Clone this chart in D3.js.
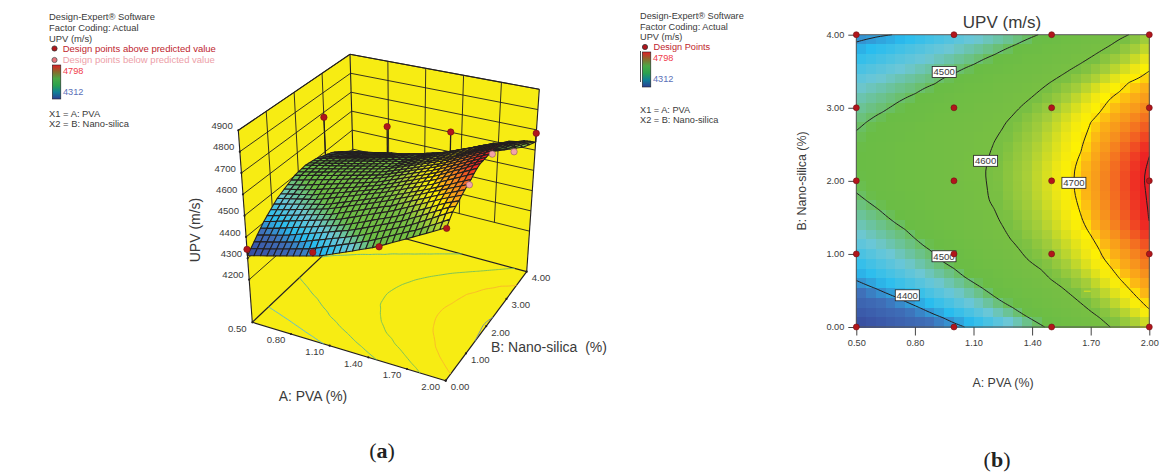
<!DOCTYPE html>
<html>
<head>
<meta charset="utf-8">
<script src="https://cdn.jsdelivr.net/npm/d3@7"></script>
<style>
body { margin: 0; background: #fff; }
svg { display: block; }
text { font-family: "Liberation Sans", Arial, sans-serif; fill: #3a3a3a; }
</style>
</head>
<body>
<div id="chart"></div>
<script>
// UPV. rows = nano-silica 0 -> 4 (31 rows), columns = PVA 0.5 -> 2 (31 columns)
let upvGrid = [
  [4312,4320,4328,4336,4344,4352,4360,4367,4375,4383,4391,4399,4411,4423,4435,4447,4459,4472,4484,4496,4510,4525,4540,4555,4570,4585,4600,4615,4630,4645,4660],
  [4331,4339,4347,4354,4362,4370,4378,4386,4394,4402,4413,4425,4436,4447,4459,4470,4481,4493,4505,4519,4533,4547,4561,4575,4589,4602,4618,4634,4650,4666,4683],
  [4349,4357,4365,4372,4380,4388,4396,4405,4415,4426,4437,4447,4458,4468,4479,4490,4500,4513,4527,4540,4553,4566,4579,4592,4607,4623,4639,4655,4672,4688,4703],
  [4368,4375,4383,4390,4398,4407,4417,4427,4437,4447,4457,4467,4477,4487,4496,4508,4520,4533,4545,4558,4570,4583,4595,4610,4626,4641,4657,4672,4688,4703,4714],
  [4386,4394,4401,4410,4419,4428,4437,4446,4455,4464,4473,4482,4491,4501,4513,4525,4537,4550,4562,4574,4586,4598,4613,4628,4643,4657,4672,4687,4702,4713,4725],
  [4404,4412,4421,4429,4438,4446,4455,4463,4471,4480,4488,4497,4507,4519,4531,4543,4555,4567,4579,4590,4603,4617,4631,4645,4659,4673,4687,4701,4713,4725,4737],
  [4418,4426,4435,4443,4451,4459,4468,4476,4484,4492,4500,4512,4524,4535,4547,4558,4570,4581,4593,4602,4618,4631,4645,4658,4671,4685,4698,4711,4723,4736,4748],
  [4432,4440,4448,4456,4464,4472,4480,4488,4496,4505,4516,4527,4539,4550,4561,4572,4583,4595,4606,4619,4632,4644,4657,4670,4683,4696,4708,4721,4734,4746,4759],
  [4446,4453,4461,4468,4475,4483,4490,4497,4504,4515,4526,4537,4548,4559,4570,4581,4592,4604,4616,4628,4640,4652,4664,4676,4688,4702,4715,4728,4742,4755,4768],
  [4460,4466,4473,4479,4486,4492,4499,4509,4519,4530,4540,4551,4561,4572,4582,4593,4602,4614,4625,4637,4649,4661,4672,4684,4696,4712,4726,4740,4754,4768,4782],
  [4468,4474,4481,4487,4494,4500,4510,4520,4529,4539,4549,4559,4569,4578,4588,4598,4609,4621,4633,4645,4657,4668,4680,4692,4705,4720,4734,4749,4764,4778,4793],
  [4477,4483,4489,4496,4503,4512,4521,4530,4539,4548,4557,4566,4575,4585,4594,4604,4615,4627,4639,4651,4662,4674,4686,4698,4712,4727,4742,4756,4771,4786,4801],
  [4485,4491,4497,4505,4514,4522,4531,4539,4548,4556,4565,4573,4581,4590,4598,4609,4621,4632,4644,4655,4667,4678,4690,4702,4716,4731,4745,4759,4774,4788,4802],
  [4493,4500,4508,4516,4524,4532,4539,4547,4555,4563,4571,4579,4587,4595,4604,4615,4626,4637,4648,4660,4671,4682,4693,4706,4720,4734,4748,4762,4776,4790,4804],
  [4502,4509,4516,4524,4531,4538,4545,4553,4560,4567,4574,4582,4589,4596,4605,4617,4628,4639,4651,4662,4673,4684,4696,4709,4722,4736,4750,4764,4778,4792,4805],
  [4505,4512,4519,4526,4533,4541,4548,4555,4562,4569,4576,4583,4590,4597,4607,4618,4629,4640,4651,4663,4674,4685,4696,4709,4723,4737,4751,4765,4779,4793,4808],
  [4507,4514,4521,4528,4535,4542,4549,4556,4563,4570,4577,4584,4591,4598,4608,4619,4630,4641,4652,4663,4674,4685,4696,4709,4722,4736,4750,4764,4778,4792,4806],
  [4510,4517,4523,4530,4537,4543,4550,4556,4563,4570,4576,4583,4590,4596,4605,4616,4627,4638,4649,4660,4671,4682,4693,4705,4719,4733,4747,4761,4774,4788,4802],
  [4507,4514,4520,4527,4534,4541,4547,4554,4561,4567,4574,4581,4588,4595,4602,4613,4624,4635,4646,4657,4667,4678,4689,4700,4714,4728,4742,4756,4770,4784,4798],
  [4504,4511,4518,4525,4531,4538,4545,4552,4559,4566,4572,4579,4586,4593,4599,4609,4620,4631,4642,4653,4664,4675,4686,4697,4709,4722,4735,4748,4760,4773,4786],
  [4501,4508,4515,4521,4528,4535,4541,4548,4555,4561,4568,4575,4581,4588,4595,4602,4614,4625,4636,4648,4659,4670,4682,4693,4704,4716,4728,4740,4751,4763,4775],
  [4494,4500,4507,4514,4521,4528,4535,4542,4548,4555,4562,4569,4576,4583,4590,4597,4607,4618,4630,4642,4653,4665,4677,4688,4700,4711,4721,4732,4742,4753,4763],
  [4486,4492,4497,4502,4509,4516,4524,4531,4538,4546,4553,4560,4568,4575,4582,4590,4597,4610,4621,4633,4645,4656,4668,4679,4691,4701,4711,4721,4731,4741,4751],
  [4479,4484,4489,4494,4499,4506,4514,4521,4529,4536,4544,4552,4559,4567,4575,4582,4590,4597,4608,4620,4632,4644,4657,4669,4681,4693,4704,4713,4721,4730,4739],
  [4471,4476,4480,4485,4490,4494,4499,4507,4515,4523,4531,4539,4547,4555,4563,4571,4579,4587,4595,4606,4618,4631,4644,4657,4670,4682,4695,4702,4710,4717,4727],
  [4461,4466,4470,4475,4480,4485,4489,4494,4499,4508,4516,4525,4533,4542,4550,4559,4568,4576,4585,4593,4603,4615,4628,4640,4653,4665,4678,4690,4703,4708,4715],
  [4447,4452,4458,4463,4468,4473,4479,4484,4489,4495,4500,4508,4517,4526,4535,4544,4553,4562,4570,4579,4588,4597,4608,4621,4633,4645,4657,4670,4682,4694,4704],
  [4433,4438,4444,4449,4455,4460,4466,4471,4477,4482,4488,4493,4499,4507,4517,4526,4535,4545,4554,4563,4573,4582,4591,4601,4613,4626,4639,4651,4664,4677,4689],
  [4418,4424,4429,4435,4441,4447,4452,4458,4464,4469,4475,4481,4486,4492,4498,4506,4516,4526,4535,4545,4555,4565,4575,4584,4594,4606,4619,4633,4646,4660,4673],
  [4404,4410,4416,4421,4427,4433,4439,4445,4450,4456,4462,4468,4474,4479,4485,4491,4497,4505,4515,4525,4536,4546,4556,4567,4577,4587,4598,4612,4626,4641,4656],
  [4388,4391,4395,4398,4401,4409,4416,4422,4429,4435,4442,4449,4455,4462,4469,4475,4482,4489,4495,4503,4514,4525,4536,4547,4558,4569,4580,4591,4601,4620,4640]
]

let contourLevels = [4400, 4500, 4600, 4700, 4800]
let contourColors = ["#4fb9e3", "#5fb98a", "#74bf5c", "#f9b52d", "#6a86b5"]

// design points in the flat plot
let designPva = [0.5, 1, 1.5, 2]
let designNano = [0, 1, 2, 3, 4]

// design points visible in the 3D view
let pointPva  = [0.5, 1, 1.5, 2, 2, 2, 2, 0.5, 1, 1.5, 2]
let pointNano = [3, 3, 3, 4, 3, 2, 1, 0, 0, 0, 0]
let pointUpv  = [4675, 4695, 4733, 4683, 4701, 4792, 4751, 4342, 4407, 4507, 4657]
let pointAbove = [1, 1, 1, 1, 0, 0, 0, 1, 1, 1, 1]

let pvaTicks = [0.5, 0.8, 1.1, 1.4, 1.7, 2]
let nanoTicks = [0, 1, 2, 3, 4]
let upvTicks = [4200, 4300, 4400, 4500, 4600, 4700, 4800, 4900]

let labelPva  = [0.95, 1.162, 1.614, 0.949, 0.761]
let labelNano = [3.49, 2.274, 1.973, 0.968, 0.434]
let labelText = ["4500", "4600", "4700", "4500", "4400"]

let infoLeft = ["Design-Expert® Software", "Factor Coding: Actual", "UPV (m/s)"]
let factorLines = ["X1 = A: PVA", "X2 = B: Nano-silica"]

let colorStops = [4312, 4380, 4420, 4465, 4510, 4610, 4645, 4680, 4695, 4715, 4735, 4760, 4785, 4798]
let colorValues = ["#38499d", "#3f6fb8", "#29bdef", "#6cc7d6", "#6abd45", "#79bf43", "#a6ce39", "#f0e714", "#fff200", "#fcb316", "#f7941d", "#f26522", "#ee3124", "#ed1c24"]
let legendColors = ["#e01f26", "#8a6a2c", "#4aa846", "#2aa24e", "#0f7f96", "#2c3f95"]

let color = d3.scaleLinear().domain(colorStops).range(colorValues).clamp(true)

let svg = d3.select("#chart").append("svg")
    .attr("width", 1163)
    .attr("height", 472)

let nodePva = d3.scaleLinear().domain([0, 30]).range([0.5, 2])
let nodeNano = d3.scaleLinear().domain([0, 30]).range([0, 4])
let cells = d3.range(30)

// contour lines come from the grid, then get cut open where they run along the border
let contourLines = []
d3.contours().size([31, 31]).thresholds(contourLevels)(upvGrid.flat()).forEach((c, k) => {
  c.coordinates.forEach(poly => poly.forEach(ring => {
    let nodes = ring.map(p => [Math.max(0, Math.min(30, p[0] - 0.5)), Math.max(0, Math.min(30, p[1] - 0.5))])
    let run = []
    nodes.forEach((p, i) => {
      let q = nodes[i - 1]
      let border = q && ((p[0] == 0 && q[0] == 0) || (p[0] == 30 && q[0] == 30) || (p[1] == 0 && q[1] == 0) || (p[1] == 30 && q[1] == 30))
      if (border) {
        if (run.length > 1) contourLines.push({k: k, pts: run})
        run = []
      }
      run.push(p)
    })
    if (run.length > 1) contourLines.push({k: k, pts: run})
  }))
})

// ---------- 3D view (a) ----------
// box corners on screen: floor, then the 4900 level
let floorBox = {a0b0: [252.3, 322.3], a1b0: [445.7, 380.7], a1b1: [526.7, 271.7], a0b1: [355, 225]}
let topBox = {a0b0: [238.3, 130.3], a1b0: [447, 172], a1b1: [539.3, 89.3], a0b1: [350, 54.3]}

let u3 = d3.scaleLinear().domain([0.5, 2]).range([0, 1])
let v3 = d3.scaleLinear().domain([0, 4]).range([0, 1])
let w3 = d3.scaleLinear().domain([4000, 4900]).range([0, 1])

let project = (pva, nano, upv) => {
  let u = u3(pva), v = v3(nano), w = w3(upv)
  let mix = box => [0, 1].map(i =>
    box.a0b0[i] * (1 - u) * (1 - v) + box.a1b0[i] * u * (1 - v) + box.a1b1[i] * u * v + box.a0b1[i] * (1 - u) * v)
  let f = mix(floorBox), t = mix(topBox)
  return [f[0] + (t[0] - f[0]) * w, f[1] + (t[1] - f[1]) * w]
}
let line3 = d3.line()
let smooth3 = d3.line().curve(d3.curveBasis)

let g3 = svg.append("g")

// walls and floor
let poly3 = pts => g3.append("path").attr("d", line3(pts) + "Z").attr("fill", "#f7ec13")
poly3([project(0.5, 0, 4000), project(0.5, 0, 4900), project(0.5, 4, 4900), project(0.5, 4, 4000)])
poly3([project(0.5, 4, 4000), project(0.5, 4, 4900), project(2, 4, 4900), project(2, 4, 4000)])
poly3([project(0.5, 0, 4000), project(2, 0, 4000), project(2, 4, 4000), project(0.5, 4, 4000)])

let seg3 = (a, b, w) => g3.append("path").attr("d", line3([a, b]))
    .attr("stroke", "#231f20").attr("stroke-width", w).attr("fill", "none")

// wall grid stops at the 4200 level
upvTicks.forEach(z => {
  seg3(project(0.5, 0, z), project(0.5, 4, z), 0.9)
  seg3(project(0.5, 4, z), project(2, 4, z), 0.9)
})
nanoTicks.slice(1, 4).forEach(b => seg3(project(0.5, b, 4200), project(0.5, b, 4900), 0.9))
pvaTicks.slice(1, 5).forEach(a => seg3(project(a, 4, 4200), project(a, 4, 4900), 0.9))

// box edges
seg3(project(0.5, 0, 4000), project(2, 0, 4000), 1.2)
seg3(project(2, 0, 4000), project(2, 4, 4000), 1.2)
seg3(project(2, 4, 4000), project(0.5, 4, 4000), 1.2)
seg3(project(0.5, 4, 4000), project(0.5, 0, 4000), 1.2)
seg3(project(0.5, 0, 4000), project(0.5, 0, 4900), 1.1)
seg3(project(0.5, 4, 4000), project(0.5, 4, 4900), 1.1)
seg3(project(2, 4, 4000), project(2, 4, 4900), 1.1)
seg3(project(0.5, 0, 4900), project(0.5, 4, 4900), 1.1)
seg3(project(0.5, 4, 4900), project(2, 4, 4900), 1.1)

// contours on the floor
g3.selectAll(".floor-line").data(contourLines).enter().append("path")
    .attr("class", "floor-line")
    .attr("d", d => smooth3(d.pts.map(p => project(nodePva(p[0]), nodeNano(p[1]), 4000))))
    .attr("fill", "none")
    .attr("stroke", d => contourColors[d.k])
    .attr("stroke-width", 0.9)

// small tick dots on the axes
let tickDot = (p) => g3.append("circle").attr("cx", p[0]).attr("cy", p[1]).attr("r", 1.1).attr("fill", "#231f20")
pvaTicks.forEach(a => tickDot(project(a, 0, 4000)))
nanoTicks.forEach(b => tickDot(project(2, b, 4000)))
upvTicks.forEach(z => tickDot(project(0.5, 0, z)))

let gridUpv = (pva, nano) => upvGrid[Math.round(nodeNano.invert(nano))][Math.round(nodePva.invert(pva))]
let points3 = pointPva.map((a, i) => ({a: a, b: pointNano[i], z: pointUpv[i], above: pointAbove[i]}))
let drawPoints3 = list => {
  list.forEach(d => seg3(project(d.a, d.b, d.z), project(d.a, d.b, gridUpv(d.a, d.b)), 1.3))
  g3.append("g").selectAll("circle").data(list).enter().append("circle")
      .attr("cx", d => project(d.a, d.b, d.z)[0])
      .attr("cy", d => project(d.a, d.b, d.z)[1])
      .attr("r", 3.2)
      .attr("fill", d => d.above ? "#b2151b" : "#f2a3a9")
      .attr("stroke", d => d.above ? "#6e1216" : "#8c5a5e")
      .attr("stroke-width", 0.6)
}

// points behind the surface first, the surface back to front, then the rest
drawPoints3(points3.filter(d => d.b > 2 && d.above))

let quads = []
cells.slice().reverse().forEach(j => cells.forEach(i => quads.push({i: i, j: j})))
g3.append("g").selectAll("path").data(quads).enter().append("path")
    .attr("d", d => {
      let node = (i, j) => project(nodePva(i), nodeNano(j), upvGrid[j][i])
      return line3([node(d.i, d.j), node(d.i + 1, d.j), node(d.i + 1, d.j + 1), node(d.i, d.j + 1)]) + "Z"
    })
    .attr("fill", d => color((upvGrid[d.j][d.i] + upvGrid[d.j][d.i + 1] + upvGrid[d.j + 1][d.i] + upvGrid[d.j + 1][d.i + 1]) / 4))
    .attr("stroke", "#231f20")
    .attr("stroke-width", 1.1)
    .attr("stroke-linejoin", "round")

drawPoints3(points3.filter(d => !(d.b > 2 && d.above)))

// 3D tick labels
let tickLabel = (p, dx, dy, s, anchor) => g3.append("text")
    .attr("x", p[0] + dx).attr("y", p[1] + dy).attr("dy", "0.35em")
    .attr("text-anchor", anchor).attr("font-size", 9.6).text(s)
upvTicks.forEach(z => tickLabel(project(0.5, 0, z), -5.5, -4.6, z, "end"))
pvaTicks.forEach(a => tickLabel(project(a, 0, 4000), -15, 6, d3.format(".2f")(a), "middle"))
nanoTicks.forEach(b => tickLabel(project(2, b, 4000), 14.3, 6, d3.format(".2f")(b), "middle"))

let label = (x, y, s, size, rotate) => svg.append("text")
    .attr("transform", "translate(" + x + "," + y + ")" + (rotate ? " rotate(-90)" : ""))
    .attr("dy", "0.35em").attr("text-anchor", "middle").attr("font-size", size).text(s)

label(195, 230, "UPV (m/s)", 14, true)
label(313, 396, "A: PVA (%)", 13.9)
svg.append("text").attr("x", 491).attr("y", 347).attr("dy", "0.35em").attr("font-size", 14)
    .attr("xml:space", "preserve").style("white-space", "pre").text("B: Nano-silica  (%)")

// ---------- contour plot (b) ----------
let x = d3.scaleLinear().domain([0.5, 2]).range([856.3, 1149.3])
let y = d3.scaleLinear().domain([0, 4]).range([327, 34.7])

let heat = svg.append("g").attr("shape-rendering", "crispEdges")
heat.selectAll("rect").data(quads).enter().append("rect")
    .attr("x", d => x(nodePva(d.i)))
    .attr("y", d => y(nodeNano(d.j + 1)))
    .attr("width", d => x(nodePva(d.i + 1)) - x(nodePva(d.i)) + 0.5)
    .attr("height", d => y(nodeNano(d.j)) - y(nodeNano(d.j + 1)) + 0.5)
    .attr("fill", d => color((upvGrid[d.j][d.i] + upvGrid[d.j][d.i + 1] + upvGrid[d.j + 1][d.i] + upvGrid[d.j + 1][d.i + 1]) / 4))

let line2 = d3.line().curve(d3.curveBasis).x(p => x(nodePva(p[0]))).y(p => y(nodeNano(p[1])))
svg.append("g").selectAll("path").data(contourLines).enter().append("path")
    .attr("d", d => line2(d.pts))
    .attr("fill", "none")
    .attr("stroke", "#231f20")
    .attr("stroke-width", 1)

// stray mark in the original plot
svg.append("line")
    .attr("x1", x(1.665)).attr("x2", x(1.7)).attr("y1", y(0.49)).attr("y2", y(0.49))
    .attr("stroke", "#f7ec13").attr("stroke-width", 0.8)

svg.append("rect")
    .attr("x", x(0.5)).attr("y", y(4))
    .attr("width", x(2) - x(0.5)).attr("height", y(0) - y(4))
    .attr("fill", "none").attr("stroke", "#555").attr("stroke-width", 1)

let xAxis = d3.axisBottom(x).tickValues(pvaTicks).tickFormat(d3.format(".2f")).tickSize(8.5).tickPadding(3.5)
let yAxis = d3.axisLeft(y).tickValues(nanoTicks).tickFormat(d3.format(".2f")).tickSize(8).tickPadding(4)
svg.append("g").attr("transform", "translate(0," + y(0) + ")").call(xAxis)
    .call(g => g.select(".domain").remove())
    .call(g => g.selectAll("text").attr("font-size", 9.2).attr("font-family", null))
svg.append("g").attr("transform", "translate(" + x(0.5) + ",0)").call(yAxis)
    .call(g => g.select(".domain").remove())
    .call(g => g.selectAll("text").attr("font-size", 9.2).attr("font-family", null))
svg.selectAll(".tick line").attr("stroke", "#444")

// contour labels sit under the design points
let tags = svg.append("g").selectAll("g").data(labelText).enter().append("g")
    .attr("transform", (d, i) => "translate(" + x(labelPva[i]) + "," + y(labelNano[i]) + ")")
tags.append("rect")
    .attr("x", -12).attr("y", -5.5).attr("width", 24).attr("height", 11)
    .attr("fill", "#fff").attr("stroke", "#231f20").attr("stroke-width", 0.8)
tags.append("text")
    .attr("dy", "0.35em").attr("text-anchor", "middle").attr("font-size", 9.6).text(d => d)

let crossed = d3.cross(designPva, designNano)
svg.append("g").selectAll("circle").data(crossed).enter().append("circle")
    .attr("cx", d => x(d[0])).attr("cy", d => y(d[1])).attr("r", 3)
    .attr("fill", "#b2151b").attr("stroke", "#6e1216").attr("stroke-width", 0.6)

label(1002, 21.7, "UPV (m/s)", 17)
label(1003, 382.7, "A: PVA (%)", 12.4)
label(802, 181, "B: Nano-silica (%)", 12.4, true)

// ---------- legends ----------
let lines = (xx, ys, list, fill, size) => list.forEach((s, i) => svg.append("text")
    .attr("x", xx).attr("y", ys[i]).attr("dy", "0.35em").attr("font-size", size || 9.2)
    .style("fill", fill || "#3a3a3a").text(s))
let dot = (xx, yy, fill, stroke) => svg.append("circle").attr("cx", xx).attr("cy", yy).attr("r", 2.6)
    .attr("fill", fill).attr("stroke", stroke).attr("stroke-width", 0.8)

let grad = svg.append("defs").append("linearGradient").attr("id", "bar")
    .attr("x1", 0).attr("x2", 0).attr("y1", 0).attr("y2", 1)
grad.selectAll("stop").data(legendColors).enter().append("stop")
    .attr("offset", (d, i) => i / (legendColors.length - 1)).attr("stop-color", d => d)

let bar = (xx, yy, h) => svg.append("rect").attr("x", xx).attr("y", yy).attr("width", 8.5).attr("height", h)
    .attr("fill", "url(#bar)").attr("stroke", "#222").attr("stroke-width", 0.6)

lines(49, [17, 27.7, 38.5], infoLeft, null, 9.4)
dot(54.5, 48.5, "#b2151b", "#333")
dot(54.5, 60, "#e8747c", "#555")
lines(62.7, [48.7], ["Design points above predicted value"], "#be1e2d", 9.5)
lines(62.7, [60], ["Design points below predicted value"], "#eda0a8", 9.5)
bar(52.3, 65, 34)
lines(63, [71], ["4798"], "#ef3b4a")
lines(63, [92], ["4312"], "#5a6fb8")
lines(49, [113.5, 123.5], factorLines, null, 9.4)

lines(640, [16, 27, 37], infoLeft)
dot(645, 47, "#b2151b", "#333")
lines(653.5, [47], ["Design Points"], "#be1e2d")
bar(642.3, 52, 35)
svg.append("line").attr("x1", 640.5).attr("x2", 640.5).attr("y1", 51).attr("y2", 82).attr("stroke", "#222").attr("stroke-width", 0.8)
lines(653, [58], ["4798"], "#ef3b4a")
lines(653, [79], ["4312"], "#5a6fb8")
lines(640, [110, 120], factorLines)

// panel letters
let panel = (xx, yy, s) => {
  let t = svg.append("text").attr("x", xx).attr("y", yy).attr("text-anchor", "middle")
      .attr("font-size", 22).style("font-family", "'Liberation Serif', serif").style("fill", "#222")
  t.append("tspan").text("(")
  t.append("tspan").attr("font-weight", "bold").text(s)
  t.append("tspan").text(")")
}
panel(382, 458, "a")
panel(997, 466.5, "b")
</script>
</body>
</html>
